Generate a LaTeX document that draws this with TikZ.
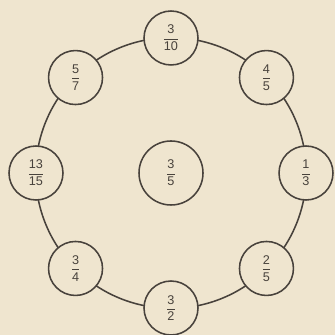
\documentclass[tikz,border=0pt]{standalone}
\usepackage{amsmath}
\usepackage{fontspec}
\setsansfont{Liberation Sans}
\usepackage{tikz}
\usetikzlibrary{positioning}
\definecolor{paper}{RGB}{239,229,207}
\definecolor{ink}{RGB}{72,66,60}
\newcommand{\fr}[2]{$\dfrac{\textsf{#1}}{\textsf{#2}}$}
\tikzset{
  num/.style={circle, draw=ink, line width=1.1pt, outer sep=0pt, minimum size=1.35cm, inner sep=0pt, text=ink, font=\fontsize{9}{10}\selectfont},
  bignum/.style={num, minimum size=1.6cm},
  ring/.style={draw=ink, line width=1.1pt}
}

\begin{document}
\begin{tikzpicture}
\fill[paper] (-4.275,-4.05) rectangle (4.1,4.325);
\useasboundingbox (-4.275,-4.05) rectangle (4.1,4.325);
\node[bignum] (mid) at (0,0) {\fr{3}{5}};
\node[num] (east) at (0:3.375) {\fr{1}{3}};
\node[num] (ne) at (45:3.375) {\fr{4}{5}};
\node[num] (top) at (90:3.375) {\fr{3}{10}};
\node[num] (nw) at (135:3.375) {\fr{5}{7}};
\node[num] (west) at (180:3.375) {\fr{13}{15}};
\node[num] (sw) at (225:3.375) {\fr{3}{4}};
\node[num] (bottom) at (270:3.375) {\fr{3}{2}};
\node[num] (se) at (315:3.375) {\fr{2}{5}};
% ring between the small circles
\draw[ring] (east.95.74) arc[start angle=11.48, delta angle=22.04, radius=3.375cm];
\draw[ring] (ne.140.74) arc[start angle=56.48, delta angle=22.04, radius=3.375cm];
\draw[ring] (top.185.74) arc[start angle=101.48, delta angle=22.04, radius=3.375cm];
\draw[ring] (nw.230.74) arc[start angle=146.48, delta angle=22.04, radius=3.375cm];
\draw[ring] (west.275.74) arc[start angle=191.48, delta angle=22.04, radius=3.375cm];
\draw[ring] (sw.320.74) arc[start angle=236.48, delta angle=22.04, radius=3.375cm];
\draw[ring] (bottom.5.74) arc[start angle=281.48, delta angle=22.04, radius=3.375cm];
\draw[ring] (se.50.74) arc[start angle=326.48, delta angle=22.04, radius=3.375cm];
\end{tikzpicture}
\end{document}
